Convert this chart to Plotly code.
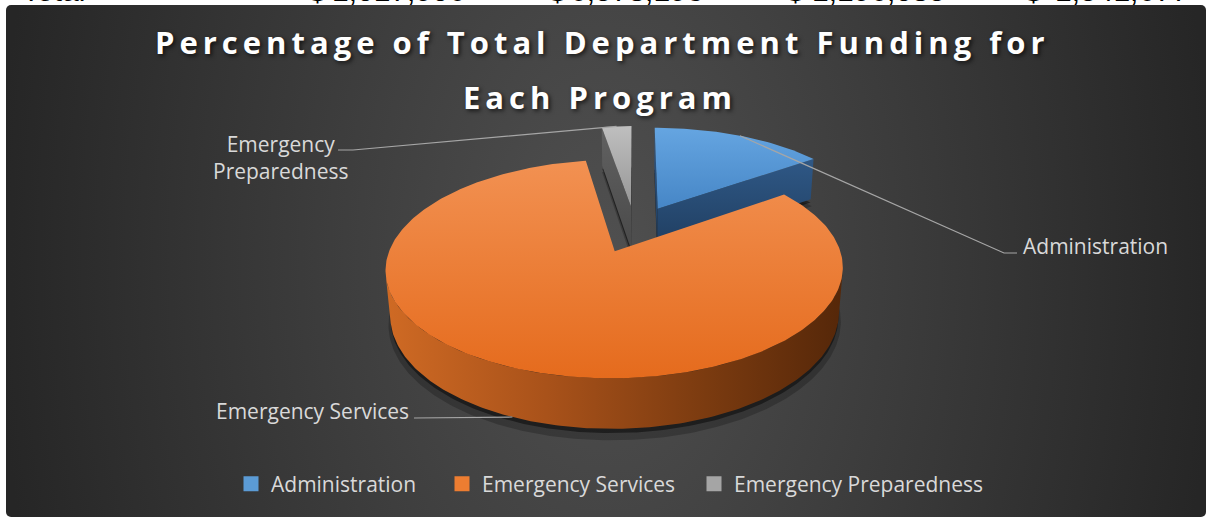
import base64
import numpy as np
import plotly.graph_objects as go

# ---------------------------------------------------------------- data
programs = ["Administration", "Emergency Services", "Emergency Preparedness"]
funding_share = [15.1, 82.3, 2.6]          # % of total department funding
header_label = "Total"
header_amounts = ["1,017,906", "6,578,193", "1,196,085", "1,541,677"]

# ---------------------------------------------------------------- styling
FIG_W, FIG_H = 1206, 520
TOP_GRAD = {
    "Administration": ["#65a5e1", "#4686c6"],
    "Emergency Services": ["#f29152", "#e56b1d"],
    "Emergency Preparedness": ["#bfbfbf", "#969696"],
}
CUT_GRAD = {
    "Administration": ["#2f5886", "#1f3d5f"],
    "Emergency Services": ["#b5591c", "#8a4112"],
    "Emergency Preparedness": ["#616161", "#4a4a4a"],
}
WALL_SCALE = {
    "Administration": [[0, "#3b6fa6"], [1, "#1c3858"]],
    "Emergency Services": [[0, "#cf6a24"], [0.35, "#a9521a"], [0.7, "#7b3b10"], [1, "#552709"]],
    "Emergency Preparedness": [[0, "#8c8c8c"], [1, "#474747"]],
}
SWATCH = {"Administration": "#5b9bd5", "Emergency Services": "#ed7d31",
          "Emergency Preparedness": "#a5a5a5"}
TEXT_GREY = "#d9d9d9"
LEADER_GREY = "#a6a6a6"
LABEL_SIZE = 21

# 3-D pie camera (pixel space of the page)
CX, CY, SCALE = 635.0, 229.0, 218.0
SIN_E, COS_E = 0.456, 0.890
PERSP = 0.175
THICK = 0.23
EXPLODE = 0.235
CAM = np.array([0.0, SIN_E / PERSP, -COS_E / PERSP])   # (u, w, v)


def project(u, w, v):
    u, w, v = np.broadcast_arrays(np.asarray(u, float), np.asarray(w, float), np.asarray(v, float))
    den = 1 + PERSP * (v * COS_E - w * SIN_E)
    return CX + SCALE * u / den, CY - SCALE * (w * COS_E + v * SIN_E) / den


def depth_of(u, w, v):
    return 1 + PERSP * (np.mean(v) * COS_E - np.mean(w) * SIN_E)


# ---------------------------------------------------------------- geometry
frac = np.array(funding_share) / np.sum(funding_share)
edges = 2 * np.pi * np.concatenate([[0.0], np.cumsum(frac)])

tops, walls, shadows, anchors = [], [], [], {}
for i, name in enumerate(programs):
    t0, t1 = edges[i], edges[i + 1]
    mid = 0.5 * (t0 + t1)
    ou, ov = EXPLODE * np.sin(mid), EXPLODE * np.cos(mid)
    ts = np.linspace(t0, t1, max(16, int(round(400 * frac[i]))))
    ru, rv = ou + np.sin(ts), ov + np.cos(ts)

    # top face
    tx, ty = project(np.r_[ou, ru, ou], 0.0, np.r_[ov, rv, ov])
    tops.append((name, tx, ty))

    # soft floor shadow, mostly below the slice
    for grow, drop, alpha in ((1.012, 0.045, 0.22), (1.0, 0.02, 0.45)):
        su, sv = ou + grow * np.sin(ts), ov + grow * np.cos(ts)
        sx, sy = project(np.r_[ou, su, ou], -THICK - drop, np.r_[ov, sv, ov])
        shadows.append((sx, sy, alpha))

    # outer curved wall, only where it faces the camera
    vis = np.sin(ts) * (CAM[0] - ru) + np.cos(ts) * (CAM[2] - rv) > 0
    if vis.sum() >= 2:
        idx = np.where(vis)[0]
        tv = np.linspace(ts[idx[0]], ts[idx[-1]], 160)
        wu, wv = ou + np.sin(tv), ov + np.cos(tv)
        uu = np.r_[wu, wu[::-1], wu[0]]
        vv = np.r_[wv, wv[::-1], wv[0]]
        ww = np.r_[np.zeros_like(wu), -THICK * np.ones_like(wu), 0.0]
        x, y = project(uu, ww, vv)
        walls.append((depth_of(uu, ww, vv), x, y, "wall", name))

    # radial cut faces
    for t, sgn in ((t0, -1.0), (t1, 1.0)):
        nu, nv = sgn * np.cos(t), -sgn * np.sin(t)
        if nu * (CAM[0] - ou) + nv * (CAM[2] - ov) > 0:
            qu = [ou, ou + np.sin(t), ou + np.sin(t), ou, ou]
            qv = [ov, ov + np.cos(t), ov + np.cos(t), ov, ov]
            qw = [0.0, 0.0, -THICK, -THICK, 0.0]
            x, y = project(qu, qw, qv)
            walls.append((depth_of(qu, qw, qv), x, y, "cut", name))

    # leader line start: rim midpoint (top rim at the back, bottom rim at the front)
    aw = 0.0 if np.cos(mid) > 0 else -THICK
    anchors[name] = project(ou + np.sin(mid), aw, ov + np.cos(mid))

walls.sort(key=lambda f: -f[0])

# ---------------------------------------------------------------- figure
fig = go.Figure()

for sx, sy, alpha in shadows:
    fig.add_trace(go.Scatter(x=sx, y=sy, mode="lines", fill="toself",
                             fillcolor=f"rgba(0,0,0,{alpha})", line=dict(width=0),
                             hoverinfo="skip", showlegend=False))

for _, x, y, kind, name in walls:
    if kind == "wall":
        grad = dict(type="horizontal", colorscale=WALL_SCALE[name],
                    start=float(np.min(x)), stop=float(np.max(x)))
    else:
        c0, c1 = CUT_GRAD[name]
        grad = dict(type="vertical", colorscale=[[0, c0], [1, c1]],
                    start=float(np.min(y)), stop=float(np.max(y)))
    fig.add_trace(go.Scatter(x=x, y=y, mode="lines", fill="toself", fillgradient=grad,
                             line=dict(width=0), hoverinfo="skip", showlegend=False))

for name, x, y in tops:
    c0, c1 = TOP_GRAD[name]
    fig.add_trace(go.Scatter(
        x=x, y=y, mode="lines", fill="toself",
        fillgradient=dict(type="vertical", colorscale=[[0, c0], [1, c1]],
                          start=float(np.min(y)), stop=float(np.max(y))),
        line=dict(width=0), hoverinfo="skip", showlegend=False))

# data labels with leader lines
LABEL_LAYOUT = {
    "Administration": dict(path=[(1004, 253), (1017, 253)], pos=(1021, 246),
                           xanchor="left", text="Administration"),
    "Emergency Services": dict(path=[(414, 418)], pos=(411, 411),
                               xanchor="right", text="Emergency Services"),
    "Emergency Preparedness": dict(path=[(353, 150), (338, 150)], pos=(280, 157),
                                   xanchor="center", text="Emergency<br>Preparedness"),
}
annotations = []
for name in programs:
    spec = LABEL_LAYOUT[name]
    ax, ay = anchors[name]
    lx = [float(ax)] + [p[0] for p in spec["path"]]
    ly = [float(ay)] + [p[1] for p in spec["path"]]
    fig.add_trace(go.Scatter(x=lx, y=ly, mode="lines", line=dict(color=LEADER_GREY, width=1.2),
                             hoverinfo="skip", showlegend=False))
    annotations.append(dict(x=spec["pos"][0], y=spec["pos"][1], xref="x", yref="y",
                            text=spec["text"], showarrow=False, xanchor=spec["xanchor"],
                            yanchor="middle", align="center",
                            font=dict(family="Open Sans", size=LABEL_SIZE, color=TEXT_GREY)))

# legend: one entry per legend box so each sits at its own spot along the bottom
LEGEND_LEFT = [231, 442, 694]
legend_ids = ["legend", "legend2", "legend3"]
legend_style = dict(font=dict(family="Open Sans", size=LABEL_SIZE, color=TEXT_GREY),
                    bgcolor="rgba(0,0,0,0)", itemclick=False, itemdoubleclick=False,
                    orientation="h", xanchor="left", y=1 - 484 / FIG_H, yanchor="middle")
for name, lid in zip(programs, legend_ids):
    fig.add_trace(go.Scatter(x=[None], y=[None], mode="markers", name=name, legend=lid,
                             marker=dict(symbol="square", size=15, color=SWATCH[name],
                                         line=dict(width=0))))

# title, two centred lines with expanded character spacing
title_font = dict(family="Open Sans", size=31, color="#ffffff", weight="bold",
                  shadow="2px 2px 4px rgba(0,0,0,0.65)")
for txt, (tx, ty) in (("Percentage of Total Department Funding for", (602, 42)),
                      ("Each Program", (600, 97))):
    annotations.append(dict(x=tx, y=ty, xref="x", yref="y", showarrow=False,
                            xanchor="center", yanchor="middle",
                            text=f'<span style="letter-spacing:5px">{txt}</span>',
                            font=title_font))

# spreadsheet row peeking above the chart
header_font = dict(family="Liberation Sans", size=30, color="#000000")
hy = 1 + 9.5 / FIG_H
annotations.append(dict(x=20, y=hy, xref="x", yref="paper", text=header_label, showarrow=False,
                        xanchor="left", yanchor="middle", font=header_font))
for amt, (dx, rx) in zip(header_amounts, [(307, 467), (547, 705), (785, 947), (1023, 1190)]):
    annotations.append(dict(x=dx, y=hy, xref="x", yref="paper", text="$", showarrow=False,
                            xanchor="left", yanchor="middle", font=header_font))
    annotations.append(dict(x=rx, y=hy, xref="x", yref="paper", text=amt, showarrow=False,
                            xanchor="right", yanchor="middle", font=header_font))

# dark radial-gradient chart area
bg_svg = (
    '<svg xmlns="http://www.w3.org/2000/svg" width="1200" height="512" viewBox="0 0 1200 512">'
    '<defs><radialGradient id="g" gradientUnits="userSpaceOnUse" cx="600" cy="256" r="610" '
    'gradientTransform="translate(600 256) scale(1 1.6) translate(-600 -256)">'
    '<stop offset="0" stop-color="#505050"/><stop offset="1" stop-color="#262626"/>'
    '</radialGradient></defs>'
    '<rect width="1200" height="512" rx="5" ry="5" fill="url(#g)"/></svg>'
)
bg_uri = "data:image/svg+xml;base64," + base64.b64encode(bg_svg.encode()).decode()

fig.update_layout(
    width=FIG_W, height=FIG_H, autosize=False,
    margin=dict(l=0, r=0, t=0, b=0, pad=0),
    paper_bgcolor="#ffffff", plot_bgcolor="rgba(0,0,0,0)",
    xaxis=dict(range=[0, FIG_W], visible=False, fixedrange=True),
    yaxis=dict(range=[FIG_H, 0], visible=False, fixedrange=True),
    images=[dict(source=bg_uri, xref="paper", yref="paper", x=6 / FIG_W, y=1 - 5 / FIG_H,
                 sizex=1200 / FIG_W, sizey=512 / FIG_H, xanchor="left", yanchor="top",
                 sizing="stretch", layer="below")],
    annotations=annotations,
    showlegend=True,
    hovermode=False,
)
for lid, left in zip(legend_ids, LEGEND_LEFT):
    fig.update_layout({lid: dict(x=left / FIG_W, **legend_style)})

fig.write_html("out.html")
